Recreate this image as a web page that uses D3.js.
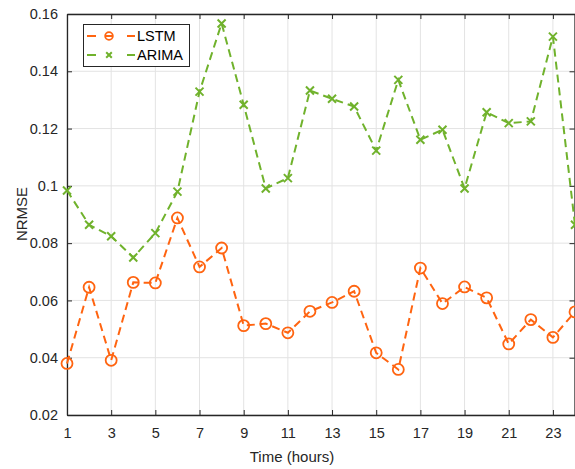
<!DOCTYPE html>
<html>
<head>
<meta charset="utf-8">
<script src="https://cdn.jsdelivr.net/npm/d3@7"></script>
<style>
  body { margin: 0; background: #fff; }
  text { font-family: "Liberation Sans", Arial, sans-serif; }
</style>
</head>
<body>
<div id="chart"></div>
<script>
// data
const hours = d3.range(1, 25);
const lstm = [0.0380, 0.0646, 0.0391, 0.0663, 0.0661, 0.0888, 0.0717, 0.0783,
              0.0512, 0.0519, 0.0487, 0.0562, 0.0593, 0.0632, 0.0417, 0.0359,
              0.0713, 0.0589, 0.0647, 0.0609, 0.0448, 0.0533, 0.0471, 0.0560];
const arima = [0.0984, 0.0864, 0.0824, 0.0750, 0.0835, 0.0980, 0.1329, 0.1567,
               0.1283, 0.0991, 0.1027, 0.1333, 0.1304, 0.1277, 0.1123, 0.1370,
               0.1161, 0.1196, 0.0991, 0.1257, 0.1219, 0.1225, 0.1521, 0.0864];
const xTicks = [1, 3, 5, 7, 9, 11, 13, 15, 17, 19, 21, 23];
const yTicks = [0.02, 0.04, 0.06, 0.08, 0.1, 0.12, 0.14, 0.16];

function drawChart() {
    const W = 575, H = 469;
    const margin = { top: 14, right: 0, bottom: 54, left: 67 };
    const width = W - margin.left - margin.right;
    const height = H - margin.top - margin.bottom;

    const svg = d3.select("#chart").append("svg")
        .attr("width", W).attr("height", H);
    const g = svg.append("g")
        .attr("transform", `translate(${margin.left},${margin.top})`);

    const x = d3.scaleLinear().domain([1, 24]).range([0, width]);
    const y = d3.scaleLinear().domain([0.02, 0.16]).range([height, 0]);

    // grid
    g.append("g").selectAll("line").data(xTicks).join("line")
        .attr("x1", d => x(d)).attr("x2", d => x(d))
        .attr("y1", 0).attr("y2", height)
        .attr("stroke", "#e3e3e3").attr("stroke-width", 1);
    g.append("g").selectAll("line").data(yTicks).join("line")
        .attr("x1", 0).attr("x2", width)
        .attr("y1", d => y(d)).attr("y2", d => y(d))
        .attr("stroke", "#e3e3e3").attr("stroke-width", 1);

    // axes (MATLAB style: inward ticks, box on)
    const fmt = d => d3.format("")(+d.toFixed(2));
    const axColor = "#262626";
    const bottom = g.append("g").attr("transform", `translate(0,${height})`)
        .call(d3.axisBottom(x).tickValues(xTicks).tickSizeInner(-5).tickSizeOuter(0).tickPadding(13));
    const left = g.append("g")
        .call(d3.axisLeft(y).tickValues(yTicks).tickFormat(fmt).tickSizeInner(-5).tickSizeOuter(0).tickPadding(9));
    const top = g.append("g")
        .call(d3.axisTop(x).tickValues(xTicks).tickSizeInner(-5).tickSizeOuter(0).tickFormat(""));
    const right = g.append("g").attr("transform", `translate(${width - 0.5},0)`)
        .call(d3.axisRight(y).tickValues(yTicks).tickSizeInner(-5).tickSizeOuter(0).tickFormat(""));
    [bottom, left, top, right].forEach(a => {
        a.selectAll("path").attr("stroke", axColor).attr("stroke-width", 1.3);
        a.selectAll("line").attr("stroke", axColor);
        a.selectAll("text").attr("fill", axColor).style("font-size", "14.5px")
            .style("font-family", "'Liberation Sans', Arial, sans-serif");
    });

    // series
    const series = [
        { name: "LSTM", values: lstm, color: "#FF6410", marker: "circle" },
        { name: "ARIMA", values: arima, color: "#70B22C", marker: "cross" }
    ];
    const line = d3.line().x((d, i) => x(hours[i])).y(d => y(d));

    function drawMarker(sel, type, color, k) {
        if (type === "circle") {
            sel.append("circle").attr("r", 5.5 * k)
                .attr("fill", "none").attr("stroke", color).attr("stroke-width", 1.8);
        } else {
            const s = 4 * k;
            sel.append("path").attr("d", `M${-s},${-s}L${s},${s}M${-s},${s}L${s},${-s}`)
                .attr("fill", "none").attr("stroke", color).attr("stroke-width", 2);
        }
    }

    series.forEach(s => {
        g.append("path").datum(s.values)
            .attr("d", line)
            .attr("fill", "none")
            .attr("stroke", s.color)
            .attr("stroke-width", 2)
            .attr("stroke-dasharray", "8,5");
        g.append("g").selectAll("g").data(s.values).join("g")
            .attr("transform", (d, i) => `translate(${x(hours[i])},${y(d)})`)
            .each(function () { drawMarker(d3.select(this), s.marker, s.color, 1); });
    });

    // legend
    const leg = svg.append("g").attr("transform", "translate(83,24)");
    leg.append("rect").attr("x", 0.5).attr("y", 0.5).attr("width", 106).attr("height", 42)
        .attr("fill", "#fff").attr("stroke", axColor).attr("stroke-width", 1);
    series.forEach((s, i) => {
        const ly = 12 + i * 19;
        [[4, 13], [44, 52]].forEach(([a, b]) => {
            leg.append("line").attr("x1", a).attr("x2", b).attr("y1", ly).attr("y2", ly)
                .attr("stroke", s.color).attr("stroke-width", 2);
        });
        const m = leg.append("g").attr("transform", `translate(26,${ly})`);
        drawMarker(m, s.marker, s.color, 0.7);
        leg.append("line").attr("x1", 22).attr("x2", 30).attr("y1", ly).attr("y2", ly)
            .attr("stroke", s.color).attr("stroke-width", 2)
            .attr("visibility", s.marker === "circle" ? "visible" : "hidden");
        leg.append("text").attr("x", 54).attr("y", ly).attr("dy", "0.36em")
            .style("font-size", "14.5px").attr("fill", "#000").text(s.name);
    });

    // axis labels
    svg.append("text")
        .attr("x", 292).attr("y", 462)
        .attr("text-anchor", "middle")
        .style("font-size", "15px").attr("fill", axColor)
        .text("Time (hours)");
    svg.append("text")
        .attr("transform", "translate(27,214) rotate(-90)")
        .attr("text-anchor", "middle")
        .style("font-size", "15px").attr("fill", axColor)
        .text("NRMSE");
}

drawChart();
</script>
</body>
</html>
